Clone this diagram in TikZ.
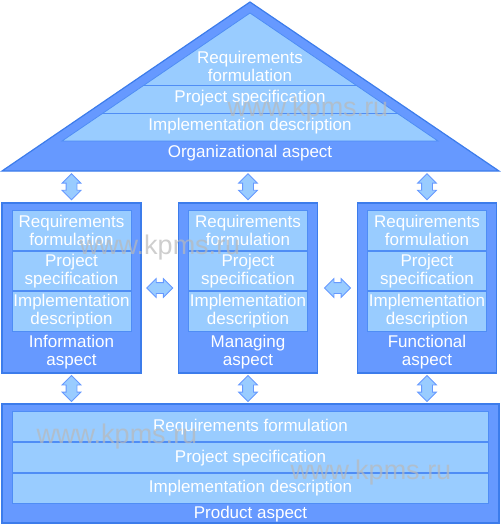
\documentclass[tikz,border=0pt]{standalone}
\usepackage{fontspec}
\setmainfont{Liberation Sans}
\usetikzlibrary{positioning,shapes.arrows}
\definecolor{midblue}{HTML}{6699FF}
\definecolor{paleblue}{HTML}{99CCFF}
\definecolor{edgeblue}{HTML}{3C7CEB}
\definecolor{rule}{HTML}{4F8DF5}
\newcommand\boxfont{\fontsize{17}{18}\selectfont}
\begin{document}
\begin{tikzpicture}[x=1pt,y=-1pt,
    aspectbox/.style={draw=edgeblue,fill=midblue,line width=1.2pt,inner sep=0pt},
    layerbox/.style={draw=rule,fill=paleblue,line width=0.8pt,minimum width=119pt,minimum height=39.5pt,
      inner sep=0pt,text=white,align=center,font=\boxfont},
    widelayer/.style={layerbox,minimum width=476pt,minimum height=30pt},
    aspectlbl/.style={text=white,align=center,font=\boxfont,inner sep=0pt},
    twoway/.style={double arrow,draw=midblue,fill=paleblue,line width=0.8pt,minimum height=26pt,
      minimum width=18pt,double arrow head extend=4pt,inner sep=0pt,text height=10pt},
    wmark/.style={text=gray!55,text opacity=0.7,font=\fontsize{27}{27}\selectfont,inner sep=0pt}]
  \useasboundingbox (0,0) rectangle (500,524);

  \filldraw[draw=edgeblue,fill=midblue,line width=1.2pt] (250,2) -- (499,171) -- (2,171) -- cycle;
  \begin{scope}
    \clip (250,13) -- (438,141) -- (62,141) -- cycle;
    \fill[paleblue] (0,0) rectangle (500,141);
    \draw[rule,line width=0.8pt] (0,85) -- (500,85) (0,113) -- (500,113);
  \end{scope}
  \draw[rule,line width=0.8pt] (250,13) -- (438,141) -- (62,141) -- cycle;
  \coordinate (roof) at (250,171);
  \node[aspectlbl] (orgreq)  at (250,66)  {Requirements\\formulation};
  \node[aspectlbl] (orgspec) at (250,98)  {Project specification};
  \node[aspectlbl] (orgimpl) at (250,126) {Implementation description};
  \node[aspectlbl] (org)     at (250,153) {Organizational aspect};

  \foreach \name/\x/\title in {info/71.5/Information,mgmt/248/Managing,func/427/Functional}{
    \node[aspectbox,minimum width=139pt,minimum height=170pt] (\name) at (\x,288) {};
    \node[layerbox,below=8pt of \name.north] (\name req)  {Requirements\\formulation};
    \node[layerbox,below=0pt of \name req]   (\name spec) {Project\\specification};
    \node[layerbox,below=0pt of \name spec]  (\name impl) {Implementation\\description};
    \node[aspectlbl,below=3.5pt of \name impl] (\name lbl) {\title\\aspect};
  }

  \node[aspectbox,minimum width=497pt,minimum height=119pt] (prod) at (250.5,463.5) {};
  \node[widelayer,below=8pt of prod.north] (prodreq)  {Requirements formulation};
  \node[widelayer,below=0pt of prodreq]    (prodspec) {Project specification};
  \node[widelayer,below=0pt of prodspec]   (prodimpl) {Implementation description};
  \node[aspectlbl,below=2.5pt of prodimpl] (prodlbl)  {Product aspect};

  \path (roof -| info.north) -- node[twoway,sloped] {} (info.north)
        (roof -| mgmt.north) -- node[twoway,sloped] {} (mgmt.north)
        (roof -| func.north) -- node[twoway,sloped] {} (func.north)
        (info.east) -- node[twoway] {} (mgmt.west)
        (mgmt.east) -- node[twoway] {} (func.west)
        (info.south) -- node[twoway,sloped] {} (info.south |- prod.north)
        (mgmt.south) -- node[twoway,sloped] {} (mgmt.south |- prod.north)
        (func.south) -- node[twoway,sloped] {} (func.south |- prod.north);

  \node[wmark] (wmroof) at (308,110) {www.kpms.ru};
  \node[wmark] (wminfo) at (160,248) {www.kpms.ru};
  \node[wmark] (wmprodl) at (117,437) {www.kpms.ru};
  \node[wmark] (wmprodr) at (371,473) {www.kpms.ru};
\end{tikzpicture}
\end{document}
